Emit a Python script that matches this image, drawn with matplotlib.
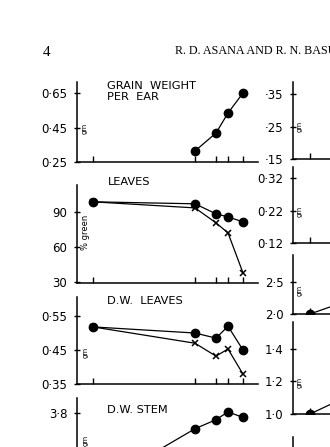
import matplotlib
matplotlib.use('Agg')
import matplotlib.pyplot as plt

W, H = 330, 447

# days after flowering (x positions of the samples)
dias = [0, 34, 41, 45, 50]
dias_grano = [34, 41, 45, 50]

grain_weight = [0.314, 0.418, 0.534, 0.65]
leaves_green_a = [98.6, 96.9, 88.3, 85.7, 81.4]
leaves_green_b = [98.6, 93.4, 80.6, 72.0, 37.7]
dw_leaves_a = [0.518, 0.500, 0.485, 0.520, 0.450]
dw_leaves_b = [0.518, 0.470, 0.432, 0.453, 0.379]
dw_stem = [3.13, 3.66, 3.74, 3.81, 3.76]

# right column (only the start is on the page)
dias_der = [0, 34]
der_panel3 = [2.0, 2.56]
der_panel4 = [1.0, 1.295]

ticks_l1 = [0.25, 0.45, 0.65]
labels_l1 = ['0·25', '0·45', '0·65']
ticks_l2 = [30, 60, 90]
labels_l2 = ['30', '60', '90']
ticks_l3 = [0.35, 0.45, 0.55]
labels_l3 = ['0·35', '0·45', '0·55']
ticks_l4 = [3.8]
labels_l4 = ['3·8']
ticks_r1 = [0.15, 0.25, 0.35]
labels_r1 = ['·15', '·25', '·35']
ticks_r2 = [0.12, 0.22, 0.32]
labels_r2 = ['0·12', '0·22', '0·32']
ticks_r3 = [2.0, 2.5]
labels_r3 = ['2·0', '2·5']
ticks_r4 = [1.0, 1.2, 1.4]
labels_r4 = ['1·0', '1·2', '1·4']

fig = plt.figure(figsize=(W / 100, H / 100), dpi=100)
fig.patch.set_facecolor('white')


def px(x, y):
    return x / W, 1 - y / H


def nuevo_eje(x0, y_top, y_bot, ylim, yticks, ylabels, xlim, xticks):
    ax = fig.add_axes([x0 / W, 1 - y_bot / H, 181 / W, (y_bot - y_top) / H])
    ax.set_xlim(*xlim)
    ax.set_ylim(*ylim)
    ax.patch.set_alpha(0)
    for s in ['top', 'right']:
        ax.spines[s].set_visible(False)
    for s in ['left', 'bottom']:
        ax.spines[s].set_linewidth(1.1)
    ax.set_yticks(yticks)
    ax.set_yticklabels(ylabels)
    ax.set_xticks(xticks)
    ax.set_xticklabels([])
    ax.tick_params(axis='y', direction='inout', length=4, width=1, pad=5,
                   labelsize=8.5)
    ax.tick_params(axis='x', direction='in', length=4, width=1)
    return ax


xlim_izq = (-16 / 3, -16 / 3 + 181 / 3)
xlim_der = (-17 / 3, -17 / 3 + 181 / 3)

estilo_c = dict(color='black', marker='o', markersize=6, linewidth=0.9)
estilo_x = dict(color='black', marker='x', markersize=5, markeredgewidth=1.1,
                linewidth=0.9)

# left column
ax1 = nuevo_eje(77, 82, 162, (0.25, 0.714), ticks_l1, labels_l1, xlim_izq, dias)
ax1.plot(dias_grano, grain_weight, **estilo_c)

ax2 = nuevo_eje(77, 185, 283, (29.1, 113), ticks_l2, labels_l2, xlim_izq, dias)
ax2.plot(dias, leaves_green_b, **estilo_x)
ax2.plot(dias, leaves_green_a, **estilo_c)

ax3 = nuevo_eje(77, 297, 384, (0.35, 0.606), ticks_l3, labels_l3, xlim_izq, dias)
ax3.plot(dias, dw_leaves_b, **estilo_x)
ax3.plot(dias, dw_leaves_a, **estilo_c)

ax4 = nuevo_eje(77, 398, 500, (3.027, 3.933), ticks_l4, labels_l4, xlim_izq, dias)
ax4.plot(dias, dw_stem, **estilo_c)

# right column
axr1 = nuevo_eje(293, 82, 159, (0.15, 0.387), ticks_r1, labels_r1, xlim_der, dias)
axr2 = nuevo_eje(293, 167, 243, (0.12, 0.354), ticks_r2, labels_r2, xlim_der, dias)
axr3 = nuevo_eje(293, 255, 314, (2.0, 2.92), ticks_r3, labels_r3, xlim_der, dias)
axr3.plot(dias_der, der_panel3, **estilo_c)
axr4 = nuevo_eje(293, 322, 414, (1.0, 1.566), ticks_r4, labels_r4, xlim_der, dias)
axr4.plot(dias_der, der_panel4, **estilo_c)
axr5 = nuevo_eje(293, 437, 530, (0, 1), [], [], xlim_der, dias)

# panel titles
titulo = dict(fontsize=8.2, va='top', ha='left', family='DejaVu Sans',
              linespacing=1.1)
fig.text(*px(107, 81), 'GRAIN  WEIGHT\nPER  EAR', **titulo)
fig.text(*px(108, 177), 'LEAVES', **titulo)
fig.text(*px(107, 296), 'D.W.  LEAVES', **titulo)
fig.text(*px(107, 405), 'D.W. STEM', **titulo)

# unit labels
unidad = dict(fontsize=5, rotation=90, ha='center', va='center')
for x, y in [(85, 128), (86, 352), (86, 440), (300, 126), (300, 211),
             (300, 290), (300, 382)]:
    fig.text(*px(x, y), 'gm', **unidad)
fig.text(*px(86, 232), '% green', fontsize=6, rotation=90, ha='center',
         va='center')

# page header
fig.text(*px(43, 56), '4', fontsize=11, family='Liberation Serif')
fig.text(*px(175, 54), 'R. D. ASANA AND R. N. BASU', fontsize=8.7,
         family='Liberation Serif')

fig.savefig('out.png', dpi=100)
